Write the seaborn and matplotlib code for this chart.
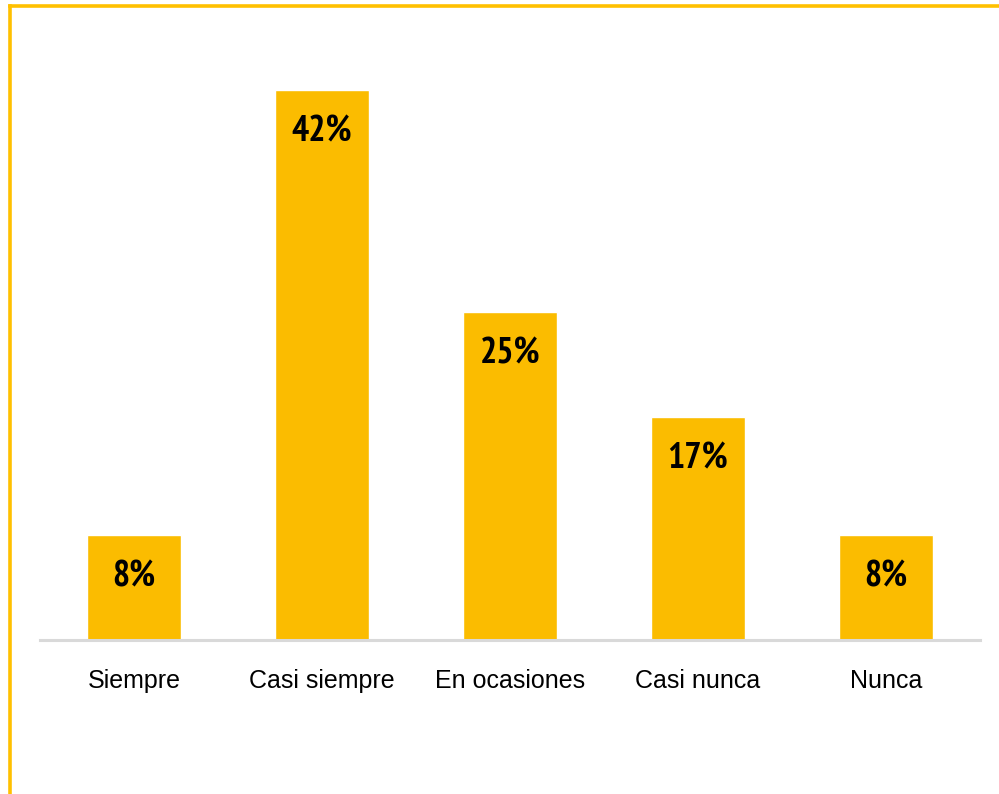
import matplotlib
matplotlib.use("Agg")
import matplotlib.pyplot as plt
from matplotlib.lines import Line2D
import seaborn as sns
import pandas as pd

# Survey response shares (percent)
categories = ["Siempre", "Casi siempre", "En ocasiones", "Casi nunca", "Nunca"]
shares = [8, 42, 25, 17, 8]

BAR_COLOR = "#FBBC00"
FRAME_COLOR = "#FFC000"

sns.set_theme(style="white")
plt.rcParams["font.family"] = ["Liberation Sans", "DejaVu Sans"]
NARROW = ["PT Sans Narrow", "Pragati Narrow", "Liberation Sans", "DejaVu Sans"]

df = pd.DataFrame({"categoria": categories, "porcentaje": shares})

fig = plt.figure(figsize=(9.99, 7.94), dpi=100)
ax = fig.add_axes([0.04, 0.194, 0.941, 0.792])

sns.barplot(data=df, x="categoria", y="porcentaje", color=BAR_COLOR,
            saturation=1, width=0.5, ax=ax)

ax.set_xlim(-0.5, 4.5)
ax.set_ylim(0, 48)
ax.set_xlabel("")
ax.set_ylabel("")
ax.set_yticks([])

for side in ("top", "left", "right"):
    ax.spines[side].set_visible(False)
ax.spines["bottom"].set_color("#D9D9D9")
ax.spines["bottom"].set_linewidth(2.2)

ax.tick_params(axis="x", length=0, pad=21, labelsize=18, colors="black")

# Value labels inside the top of each bar
for i, v in enumerate(shares):
    ax.annotate(f"{v:.0f}%", xy=(i, v), xytext=(0, -42), textcoords="offset pixels",
                ha="center", va="center", fontsize=26, fontweight="bold",
                color="black", family=NARROW)

# Gold frame along the left and top edges
fig.add_artist(Line2D([9.5 / 999, 9.5 / 999], [0, 1 - 5.5 / 794],
                      transform=fig.transFigure, color=FRAME_COLOR, linewidth=2.6,
                      solid_capstyle="projecting"))
fig.add_artist(Line2D([9.5 / 999, 1], [1 - 5.5 / 794, 1 - 5.5 / 794],
                      transform=fig.transFigure, color=FRAME_COLOR, linewidth=2.6,
                      solid_capstyle="projecting"))

fig.savefig("out.png", dpi=100)
